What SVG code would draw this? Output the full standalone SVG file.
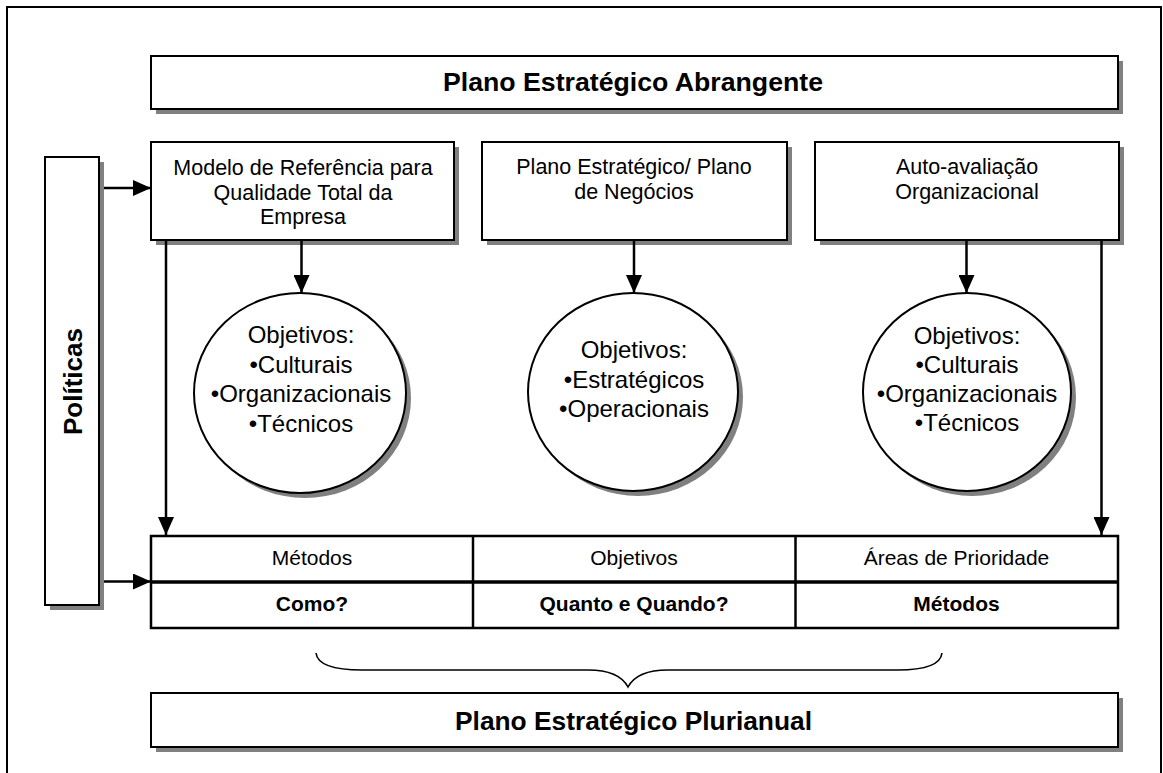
<svg xmlns="http://www.w3.org/2000/svg" width="1163" height="773" viewBox="0 0 1163 773">
  <defs>
    <style>
      text { font-family: "Liberation Sans", Arial, sans-serif; fill: #000; }
      .box { fill: #fff; stroke: #000; stroke-width: 2; }
      .shadow { fill: #808080; stroke: none; }
      .title { font-size: 25px; font-weight: bold; text-anchor: middle; }
      .lbl { font-size: 21.5px; text-anchor: middle; }
      .obj { font-size: 24px; text-anchor: middle; }
      .cell { font-size: 21px; text-anchor: middle; }
      .cellb { font-size: 21px; font-weight: bold; text-anchor: middle; }
      .conn { stroke: #000; stroke-width: 2.5; fill: none; }
    </style>
    <marker id="arrow" viewBox="0 0 18 16" refX="18" refY="8" markerWidth="18" markerHeight="16" markerUnits="userSpaceOnUse" orient="auto">
      <path d="M0,0 L18,8 L0,16 Z" fill="#000"/>
    </marker>
  </defs>

  <!-- page frame -->
  <rect x="7" y="7" width="1154" height="780" fill="#fff" stroke="#000" stroke-width="2"/>

  <!-- top title bar -->
  <g id="plano-abrangente">
    <rect class="shadow" x="156" y="61" width="967" height="53"/>
    <rect class="box" x="151" y="56" width="967" height="53"/>
    <text class="title" x="633" y="91" textLength="380" lengthAdjust="spacingAndGlyphs">Plano Estratégico Abrangente</text>
  </g>

  <!-- policies side bar -->
  <g id="politicas">
    <rect class="shadow" x="50" y="162" width="54" height="448"/>
    <rect class="box" x="45" y="157" width="54" height="448"/>
    <text class="title" transform="translate(81.5,381.5) rotate(-90)" style="font-size:26px">Políticas</text>
  </g>

  <!-- three source boxes -->
  <g id="modelo-referencia">
    <rect class="shadow" x="156" y="147" width="303" height="98"/>
    <rect class="box" x="151" y="142" width="303" height="98"/>
    <text class="lbl" x="303" y="175">Modelo de Referência para</text>
    <text class="lbl" x="303" y="199.5">Qualidade Total da</text>
    <text class="lbl" x="303" y="224">Empresa</text>
  </g>
  <g id="plano-negocios">
    <rect class="shadow" x="487" y="147" width="305" height="98"/>
    <rect class="box" x="482" y="142" width="305" height="98"/>
    <text class="lbl" x="634" y="174">Plano Estratégico/ Plano</text>
    <text class="lbl" x="634" y="199">de Negócios</text>
  </g>
  <g id="auto-avaliacao">
    <rect class="shadow" x="820" y="147" width="304" height="98"/>
    <rect class="box" x="815" y="142" width="304" height="98"/>
    <text class="lbl" x="967" y="173.5">Auto-avaliação</text>
    <text class="lbl" x="967" y="198.5">Organizacional</text>
  </g>

  <!-- objective circles -->
  <g id="objetivos-1">
    <ellipse class="shadow" cx="305" cy="398" rx="106" ry="100"/>
    <ellipse class="box" cx="300" cy="393" rx="106" ry="100"/>
    <text class="obj" x="301" y="343">Objetivos:</text>
    <text class="obj" x="301" y="373">•Culturais</text>
    <text class="obj" x="301" y="402">•Organizacionais</text>
    <text class="obj" x="301" y="431.5">•Técnicos</text>
  </g>
  <g id="objetivos-2">
    <ellipse class="shadow" cx="638" cy="397" rx="105" ry="99"/>
    <ellipse class="box" cx="633" cy="392" rx="105" ry="99"/>
    <text class="obj" x="634" y="358">Objetivos:</text>
    <text class="obj" x="634" y="387.5">•Estratégicos</text>
    <text class="obj" x="634" y="416.5">•Operacionais</text>
  </g>
  <g id="objetivos-3">
    <ellipse class="shadow" cx="972" cy="397" rx="104" ry="99"/>
    <ellipse class="box" cx="967" cy="392" rx="104" ry="99"/>
    <text class="obj" x="967" y="344">Objetivos:</text>
    <text class="obj" x="967" y="373">•Culturais</text>
    <text class="obj" x="967" y="402">•Organizacionais</text>
    <text class="obj" x="967" y="431">•Técnicos</text>
  </g>

  <!-- summary table -->
  <g id="tabela">
    <rect x="151" y="536" width="967" height="92" fill="#fff" stroke="#000" stroke-width="2.5"/>
    <line x1="151" y1="582" x2="1118" y2="582" stroke="#000" stroke-width="3.5"/>
    <line x1="473" y1="536" x2="473" y2="628" stroke="#000" stroke-width="2.5"/>
    <line x1="795.5" y1="536" x2="795.5" y2="628" stroke="#000" stroke-width="2.5"/>
    <text class="cell" x="312" y="565">Métodos</text>
    <text class="cell" x="634" y="565">Objetivos</text>
    <text class="cell" x="956.5" y="565">Áreas de Prioridade</text>
    <text class="cellb" x="312" y="611">Como?</text>
    <text class="cellb" x="634" y="611">Quanto e Quando?</text>
    <text class="cellb" x="956.5" y="611">Métodos</text>
  </g>

  <!-- brace grouping the table -->
  <path id="chave" d="M316,653 Q318,670 362,670 L588,670 Q619,670 628,687 Q637,670 668,670 L898,670 Q940,670 942,653" fill="none" stroke="#000" stroke-width="1.6"/>

  <!-- bottom title bar -->
  <g id="plano-plurianual">
    <rect class="shadow" x="156" y="698" width="967" height="54"/>
    <rect class="box" x="151" y="693" width="967" height="54"/>
    <text class="title" x="633.5" y="730" textLength="357" lengthAdjust="spacingAndGlyphs">Plano Estratégico Plurianual</text>
  </g>

  <!-- connectors -->
  <g id="conectores">
    <line class="conn" x1="104" y1="188" x2="151" y2="188" marker-end="url(#arrow)"/>
    <line class="conn" x1="104" y1="581.5" x2="151" y2="581.5" marker-end="url(#arrow)"/>
    <line class="conn" x1="166" y1="240" x2="166" y2="535" marker-end="url(#arrow)"/>
    <line class="conn" x1="1101.5" y1="240" x2="1101.5" y2="535" marker-end="url(#arrow)"/>
    <line class="conn" x1="301.5" y1="240" x2="301.5" y2="293" marker-end="url(#arrow)"/>
    <line class="conn" x1="634" y1="240" x2="634" y2="293" marker-end="url(#arrow)"/>
    <line class="conn" x1="966.5" y1="240" x2="966.5" y2="293" marker-end="url(#arrow)"/>
  </g>
</svg>
